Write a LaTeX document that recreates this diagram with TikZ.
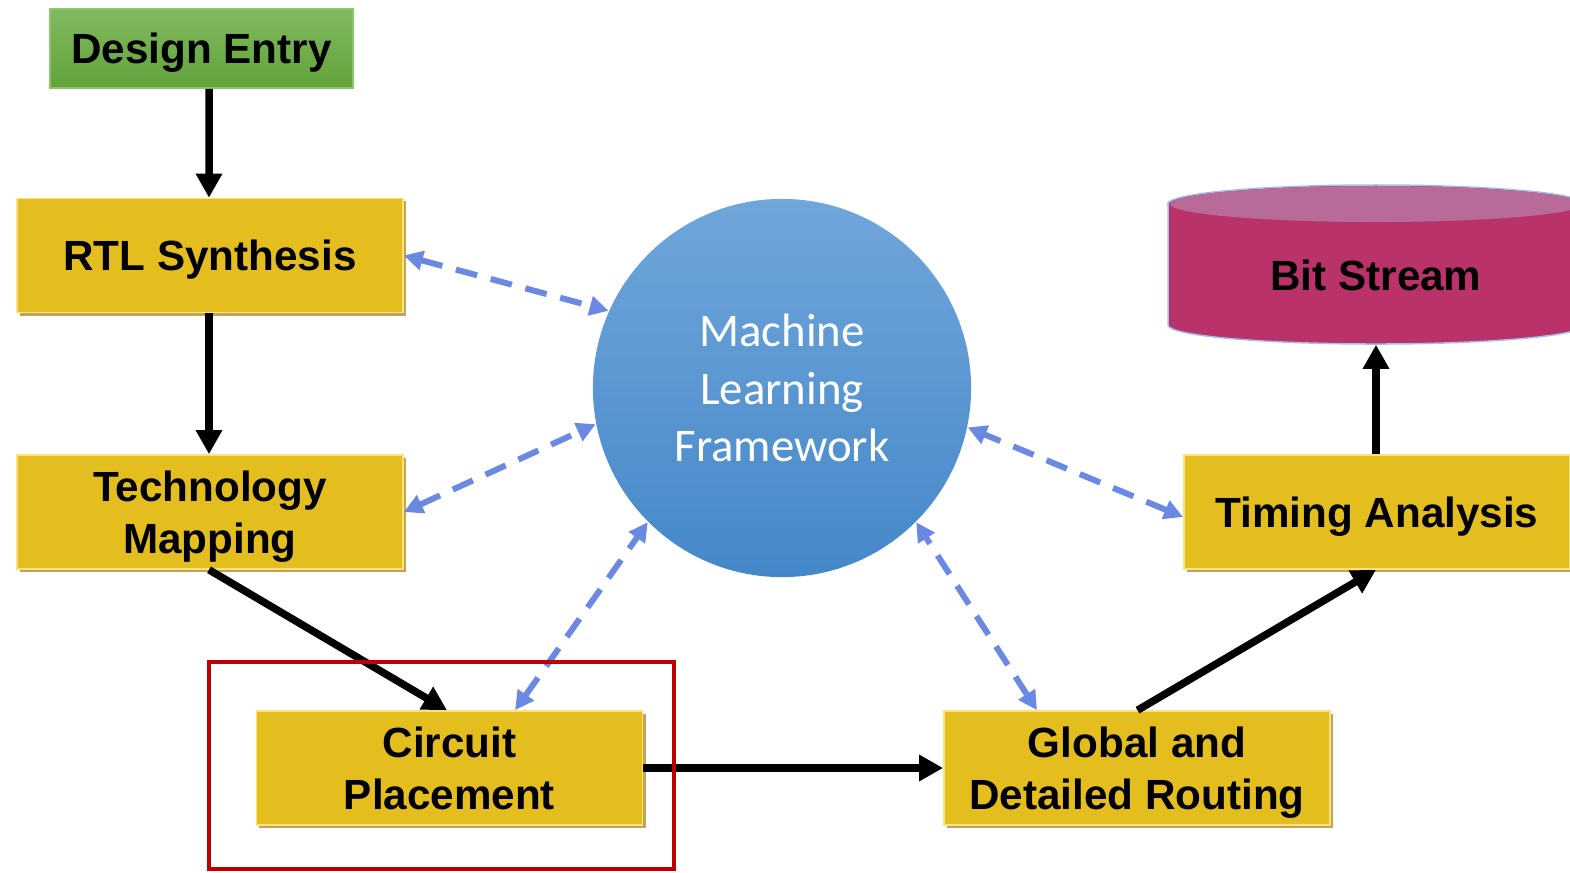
\documentclass[tikz,border=0pt]{standalone}
\usepackage{fontspec}
\setmainfont{Liberation Sans}
\newfontfamily\calfont{Carlito}
\usetikzlibrary{arrows.meta,shadows}
\definecolor{stagefill}{HTML}{E4BD1F}
\definecolor{stageedge}{HTML}{FBE27E}
\definecolor{stageshade}{HTML}{BFA55A}
\definecolor{entrytop}{HTML}{80BA5E}
\definecolor{entrybot}{HTML}{62A23B}
\definecolor{entryedge}{HTML}{8DC46C}
\definecolor{mltop}{HTML}{70A6DA}
\definecolor{mlbot}{HTML}{4588C9}
\definecolor{linkblue}{HTML}{6B88E2}
\definecolor{focusred}{HTML}{C00000}
\definecolor{bodymag}{HTML}{B9326A}
\definecolor{topmag}{HTML}{B86B99}
\definecolor{rimblue}{HTML}{A4BEEC}

\begin{document}
\begin{tikzpicture}[x=0.01cm,y=-0.01cm,
  boxfont/.style={font=\fontsize{12}{14.8}\selectfont\bfseries, text depth=0pt},
  stage/.style={rectangle, boxfont, fill=stagefill, draw=stageedge, line width=0.015cm,
    minimum width=3.86cm, minimum height=1.14cm, align=center, inner sep=0pt,
    general shadow={fill=stageshade, shadow xshift=0.03cm, shadow yshift=-0.03cm}},
  flow/.style={line width=0.075cm, -{Triangle[length=0.24cm,width=0.25cm]}},
  link/.style={draw=linkblue, line width=0.06cm, dash pattern=on 0.22cm off 0.14cm,
    {Triangle[length=0.19cm,width=0.19cm,fill=linkblue]}-{Triangle[length=0.19cm,width=0.19cm,fill=linkblue]}}
]
\useasboundingbox (0,0) rectangle (1570,872);

% bit stream storage cylinder
\path[fill=bodymag, draw=rimblue, line width=0.015cm]
  (1168,204) -- (1168,325)
  arc[start angle=180, end angle=360, x radius=2.08cm, y radius=0.19cm]
  -- (1584,204)
  arc[start angle=0, end angle=180, x radius=2.08cm, y radius=0.19cm] -- cycle;
\fill[topmag] (1376,204) ellipse[x radius=2.06cm, y radius=0.18cm];
\node[font=\fontsize{12}{14.8}\selectfont\bfseries, minimum height=1.38cm, inner sep=0pt]
  (bits) at (1376,275) {Bit Stream};

% design flow steps
\node[rectangle, boxfont, top color=entrytop, bottom color=entrybot, draw=entryedge,
  line width=0.015cm, minimum width=3.03cm, minimum height=0.79cm, inner sep=0pt]
  (entry) at (201.5,48.5) {Design Entry};
\node[stage] (rtl) at (210,255.5) {RTL Synthesis};
\node[stage] (tech) at (210,512) {Technology\\Mapping};
\node[stage] (place) at (449.5,768) {Circuit\\Placement};
\node[stage] (route) at (1137,768) {Global and\\Detailed Routing};
\node[stage] (timing) at (1377,512) {Timing Analysis};

% learning core
\node[circle, minimum size=3.78cm, inner sep=0pt, top color=mltop, bottom color=mlbot,
  text=white, align=center, font=\calfont\fontsize{13.3}{16.45}\selectfont]
  (ml) at (782,388) {Machine\\Learning\\Framework};

% main flow
\draw[flow] ([xshift=0.075cm]entry.south) -- ([xshift=-0.01cm]rtl.north);
\draw[flow] ([xshift=-0.01cm]rtl.south) -- ([xshift=-0.01cm]tech.north);
\draw[flow] ([xshift=-0.01cm]tech.south) -- ([xshift=-0.025cm]place.north);
\draw[flow] (place.east) -- (route.west);
\draw[flow] ([xshift=0.005cm]route.north) -- ([xshift=-0.01cm]timing.south);
\draw[flow] ([xshift=-0.01cm]timing.north) -- (bits.south);

% exchanges with the learning core
\draw[link] (rtl.east) -- (ml.156);
\draw[link] (tech.east) -- (ml.191);
\draw[link] ([xshift=0.655cm]place.north) -- (ml.225);
\draw[link] ([xshift=-1cm]route.north) -- (ml.315);
\draw[link] ([yshift=-0.05cm]timing.west) -- (ml.348.5);

% highlight frame around the placement step
\node[rectangle, draw=focusred, line width=0.045cm, minimum width=4.65cm,
  minimum height=2.07cm, inner sep=0pt] (focus) at (441.5,765.5) {};
\end{tikzpicture}
\end{document}
